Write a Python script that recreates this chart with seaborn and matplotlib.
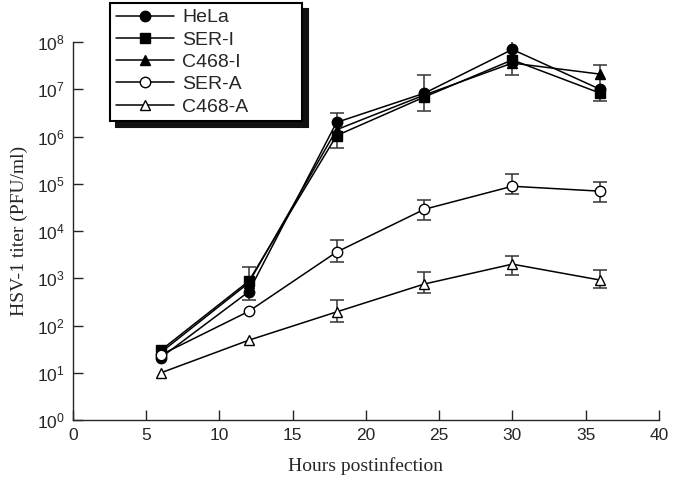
import numpy as np
import pandas as pd
import matplotlib
matplotlib.use('Agg')
import matplotlib.pyplot as plt
import seaborn as sns

# hours postinfection
hours = [6, 12, 18, 24, 30, 36]

# titers (PFU/ml)
hela = [21, 520, 2.0e6, 8.3e6, 7.0e7, 1.0e7]
ser_i = [30, 870, 1.05e6, 6.9e6, 4.2e7, 8.3e6]
c468_i = [27, 800, 1.4e6, 7.6e6, 3.6e7, 2.1e7]
ser_a = [24, 200, 3600, 2.9e4, 8.9e4, 7.0e4]
c468_a = [10, 49, 195, 760, 2000, 920]

# error bar ends (low, high)
top_lo = [np.nan, 350, 5.8e5, 3.5e6, 2.0e7, 5.6e6]
top_hi = [np.nan, 1740, 3.2e6, 2.0e7, 1.15e8, 3.2e7]
top_mid = [np.nan, 800, 1.4e6, 8.3e6, 4.5e7, 1.3e7]
sera_lo = [np.nan, np.nan, 2200, 1.7e4, 6.0e4, 4.1e4]
sera_hi = [np.nan, np.nan, 6500, 4.6e4, 1.6e5, 1.1e5]
c468a_lo = [np.nan, np.nan, 117, 490, 1170, 620]
c468a_hi = [np.nan, np.nan, 347, 1350, 2950, 1480]

names = ['HeLa', 'SER-I', 'C468-I', 'SER-A', 'C468-A']
values = [hela, ser_i, c468_i, ser_a, c468_a]
marks = ['o', 's', '^', 'o', '^']
fills = ['black', 'black', 'black', 'white', 'white']

sns.set_style('ticks')
plt.rcParams['font.family'] = ['Liberation Sans', 'DejaVu Sans']
plt.rcParams['mathtext.default'] = 'regular'

fig = plt.figure(figsize=(6.75, 4.84), dpi=100)
ax = fig.add_axes([0.108, 0.132, 0.868, 0.781])

# error bars first so markers sit on top
for mid, lo, hi in [(top_mid, top_lo, top_hi), (ser_a, sera_lo, sera_hi), (c468_a, c468a_lo, c468a_hi)]:
    mid = np.array(mid, float)
    err = np.vstack([mid - np.array(lo, float), np.array(hi, float) - mid])
    ax.errorbar(hours, mid, yerr=err, fmt='none', ecolor='#333333',
                elinewidth=1.1, capsize=5, capthick=1.1, zorder=2)

for name, vals, m, fc in zip(names, values, marks, fills):
    df = pd.DataFrame({'hours': hours, 'titer': vals})
    sns.lineplot(data=df, x='hours', y='titer', ax=ax, color='black',
                 linewidth=1.1, marker=m, markersize=7.5 if m != 's' else 7,
                 markerfacecolor=fc, markeredgecolor='black',
                 markeredgewidth=1.0, label=name, zorder=3)

ax.set_yscale('log')
ax.set_ylim(1, 1e8)
ax.set_xlim(0, 40)
ax.set_xticks(range(0, 41, 5))
ax.set_yticks([10.0 ** k for k in range(0, 9)])
ax.yaxis.set_minor_locator(matplotlib.ticker.NullLocator())
ax.tick_params(direction='in', length=7, width=1, labelsize=12.5, pad=6)
sns.despine(ax=ax)
for s in ['left', 'bottom']:
    ax.spines[s].set_linewidth(1.0)

ax.set_xlabel('Hours postinfection', family='Liberation Serif', fontsize=14, labelpad=10)
ax.set_ylabel('HSV-1 titer (PFU/ml)', family='Liberation Serif', fontsize=14, labelpad=6)

leg = ax.legend(loc='upper left',
                bbox_to_anchor=(110 / 675, 1 - 118 / 484, 192 / 675, 115 / 484),
                bbox_transform=fig.transFigure, borderaxespad=0, mode='expand',
                fancybox=False, shadow={'color': '#111111', 'alpha': 1, 'ox': 4, 'oy': -4},
                edgecolor='black', fontsize=14, handlelength=3.0,
                labelspacing=0.24, borderpad=0.3, handletextpad=0.4,
                framealpha=1)
leg.get_frame().set_linewidth(1.5)

fig.savefig('out.png', dpi=100)
